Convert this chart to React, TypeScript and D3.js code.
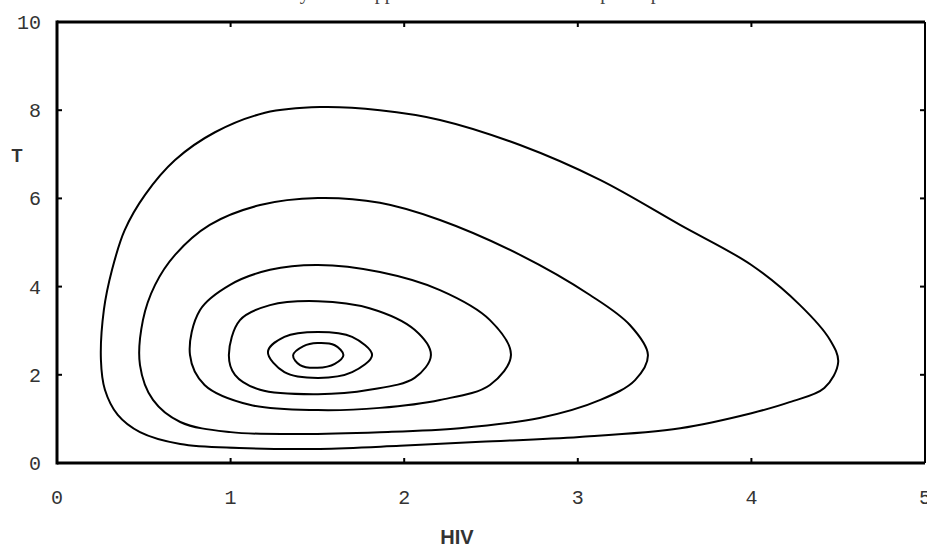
import React from "react";
import * as d3 from "d3";

const W = 927;
const H = 547;

const xTicks = [0, 1, 2, 3, 4, 5];
const yTicks = [0, 2, 4, 6, 8, 10];
const xLabel = "HIV";
const yLabel = "T";
const titleText = "Stability of the approximated solution in the phase plane";

const orbit1: [number, number][] = [
  [0.253, 2.34], [0.27, 3.47], [0.317, 4.38], [0.39, 5.28], [0.507, 6.08],
  [0.68, 6.87], [0.91, 7.5], [1.198, 7.94], [1.515, 8.07], [1.86, 8.0],
  [2.206, 7.78], [2.667, 7.21], [3.128, 6.42], [3.589, 5.4], [4.0, 4.49],
  [4.28, 3.58], [4.453, 2.79], [4.5, 2.29], [4.42, 1.7], [4.22, 1.38],
  [4.0, 1.13], [3.59, 0.79], [3.01, 0.59], [2.44, 0.48], [1.976, 0.39],
  [1.515, 0.32], [1.05, 0.34], [0.71, 0.43], [0.478, 0.7], [0.35, 1.09],
  [0.276, 1.66],
];
const orbit2: [number, number][] = [
  [0.478, 2.22], [0.495, 3.24], [0.565, 4.04], [0.68, 4.72], [0.88, 5.4],
  [1.17, 5.85], [1.503, 6.01], [1.86, 5.9], [2.206, 5.51], [2.667, 4.72],
  [3.07, 3.81], [3.3, 3.13], [3.404, 2.45], [3.33, 1.88], [3.13, 1.43],
  [2.78, 1.02], [2.32, 0.79], [1.86, 0.7], [1.4, 0.66], [1.0, 0.7],
  [0.71, 0.93], [0.553, 1.43],
];
const orbit3: [number, number][] = [
  [0.766, 2.45], [0.824, 3.47], [0.997, 4.04], [1.227, 4.38], [1.503, 4.49],
  [1.86, 4.33], [2.206, 3.92], [2.494, 3.24], [2.615, 2.45], [2.494, 1.77],
  [2.206, 1.43], [1.86, 1.25], [1.503, 1.2], [1.11, 1.32], [0.85, 1.77],
];
const orbit4: [number, number][] = [
  [0.99, 2.45], [1.054, 3.24], [1.227, 3.58], [1.503, 3.67], [1.8, 3.51],
  [2.06, 3.02], [2.154, 2.45], [2.06, 1.93], [1.8, 1.66], [1.503, 1.56],
  [1.17, 1.66], [1.025, 2.0],
];
const orbit5: [number, number][] = [
  [1.215, 2.52], [1.31, 2.86], [1.503, 2.97], [1.7, 2.86], [1.815, 2.45],
  [1.7, 2.06], [1.503, 1.93], [1.31, 2.06],
];
const orbit6: [number, number][] = [
  [1.36, 2.44], [1.42, 2.65], [1.5, 2.72], [1.6, 2.67], [1.65, 2.45],
  [1.6, 2.25], [1.5, 2.16], [1.4, 2.22],
];
const orbits = [orbit1, orbit2, orbit3, orbit4, orbit5, orbit6];

export default function App() {
  const x = d3.scaleLinear().domain([0, 5]).range([57, 925]);
  const y = d3.scaleLinear().domain([0, 10]).range([463, 22]);
  const line = d3
    .line<[number, number]>()
    .x((d) => x(d[0]))
    .y((d) => y(d[1]))
    .curve(d3.curveCatmullRomClosed.alpha(0.5));

  const tickFont = "'Liberation Mono', 'DejaVu Sans Mono', monospace";

  return (
    <svg
      width={W}
      height={H}
      style={{ position: "absolute", left: 0, top: 0, background: "#fff" }}
    >
      <rect x={0} y={0} width={W} height={H} fill="#fff" />
      <text
        x={242}
        y={-1}
        fontFamily="'Liberation Serif', serif"
        fontSize={20}
        fill="#444"
      >
        {titleText}
      </text>
      {orbits.map((o, i) => (
        <path
          key={i}
          d={line(o) || ""}
          fill="none"
          stroke="#000"
          strokeWidth={2}
        />
      ))}
      <line x1={x(0)} x2={x(5)} y1={y(10)} y2={y(10)} stroke="#000" strokeWidth={3} />
      <line x1={x(5)} x2={x(5)} y1={y(10)} y2={y(0)} stroke="#000" strokeWidth={2} />
      <line x1={x(0)} x2={x(5)} y1={y(0)} y2={y(0)} stroke="#000" strokeWidth={3} />
      <line x1={x(0)} x2={x(0)} y1={y(10) - 1.5} y2={y(0) + 1.5} stroke="#000" strokeWidth={3} />
      {xTicks.filter((t) => t > 0 && t < 5).map((t) => (
        <g key={"xt" + t}>
          <line x1={x(t)} x2={x(t)} y1={y(0)} y2={y(0) - 5} stroke="#000" strokeWidth={2} />
          <line x1={x(t)} x2={x(t)} y1={y(10)} y2={y(10) + 5} stroke="#000" strokeWidth={2} />
        </g>
      ))}
      {yTicks.filter((t) => t > 0 && t < 10).map((t) => (
        <g key={"yt" + t}>
          <line x1={x(0)} x2={x(0) + 5} y1={y(t)} y2={y(t)} stroke="#000" strokeWidth={2} />
          <line x1={x(5)} x2={x(5) - 5} y1={y(t)} y2={y(t)} stroke="#000" strokeWidth={2} />
        </g>
      ))}
      {xTicks.map((t) => (
        <text
          key={"xl" + t}
          x={x(t)}
          y={504}
          textAnchor="middle"
          fontFamily={tickFont}
          fontSize={20}
          fill="#333"
        >
          {t}
        </text>
      ))}
      {yTicks.map((t) => (
        <text
          key={"yl" + t}
          x={41}
          y={y(t) + 7}
          textAnchor="end"
          fontFamily={tickFont}
          fontSize={20}
          fill="#333"
        >
          {t}
        </text>
      ))}
      <text
        x={17}
        y={162}
        textAnchor="middle"
        fontFamily="'Liberation Sans', Arial, sans-serif"
        fontWeight="bold"
        fontSize={18}
        fill="#333"
      >
        {yLabel}
      </text>
      <text
        x={457}
        y={544}
        textAnchor="middle"
        fontFamily="'Liberation Sans', Arial, sans-serif"
        fontWeight="bold"
        fontSize={20}
        fill="#333"
      >
        {xLabel}
      </text>
    </svg>
  );
}
